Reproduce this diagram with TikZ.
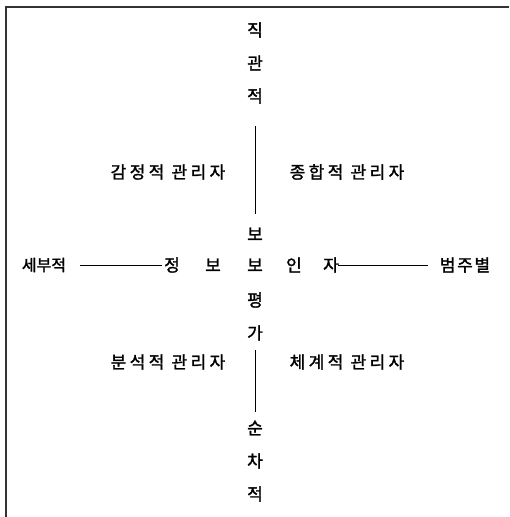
\documentclass[tikz,border=0pt]{standalone}
\usepackage{fontspec}
\newfontfamily\kr[FakeBold=1.6]{Noto Sans CJK KR}
\newfontfamily\krw[LetterSpace=20,FakeBold=1.6]{Noto Sans CJK KR}
\newfontfamily\krm[LetterSpace=10,FakeBold=1.6]{Noto Sans CJK KR}
\tikzset{
  ch/.style={font=\kr\fontsize{17}{20}\selectfont, inner sep=0pt},
  lab/.style={font=\krw\fontsize{17}{20}\selectfont, inner sep=0pt},
  cat/.style={font=\krm\fontsize{17}{20}\selectfont, inner sep=0pt},
  small/.style={font=\kr\fontsize{16}{19}\selectfont, inner sep=0pt},
  conn/.style={line width=1pt, draw=black},
  frame/.style={line width=1.4pt, draw=black!80},
}
\begin{document}
\begin{tikzpicture}[x=1pt,y=-1pt]
\useasboundingbox (0,0) rectangle (509,517);
% frame
\coordinate (tl) at (6,7);
\coordinate (tr) at (509,7);
\coordinate (bl) at (6,517);
\draw[frame] (tr) -- (tl) -- (bl);
% vertical axis texts
\node[ch] (v1) at (255,30) {직};
\node[ch] (v2) at (255,63) {관};
\node[ch] (v3) at (255,96) {적};
\node[ch] (bo1) at (255,234) {보};
\node[ch] (pyeong) at (255,300) {평};
\node[ch] (ga) at (255,333) {가};
\node[ch] (sun) at (255,428) {순};
\node[ch] (cha) at (255,461) {차};
\node[ch] (jeok2) at (255,494) {적};
% quadrant labels
\node[lab] (gam) at (168,172) {감정적 관리자};
\node[lab] (jong) at (347,172) {종합적 관리자};
\node[lab] (bun) at (168,362) {분석적 관리자};
\node[lab] (che) at (347,362) {체계적 관리자};
% main row
\node[small] (sebu) at (44,265) {세부적};
\node[ch] (m1) at (172,265) {정};
\node[ch] (m2) at (213,265) {보};
\node[ch] (m3) at (255,265) {보};
\node[ch] (m4) at (294,265) {인};
\node[ch] (m5) at (331,265) {자};
\node[cat] (beom) at (465,265) {범주별};
% connectors
\draw[conn, shorten <=30pt, shorten >=20pt] (v3.center) -- (bo1.center);
\draw[conn, shorten <=17pt, shorten >=16pt] (ga.center) -- (sun.center);
\draw[conn, shorten <=36pt, shorten >=10pt] (sebu.center) -- (m1.center);
\draw[conn, shorten <=7pt, shorten >=37pt] (m5.center) -- (beom.center);
\end{tikzpicture}
\end{document}
